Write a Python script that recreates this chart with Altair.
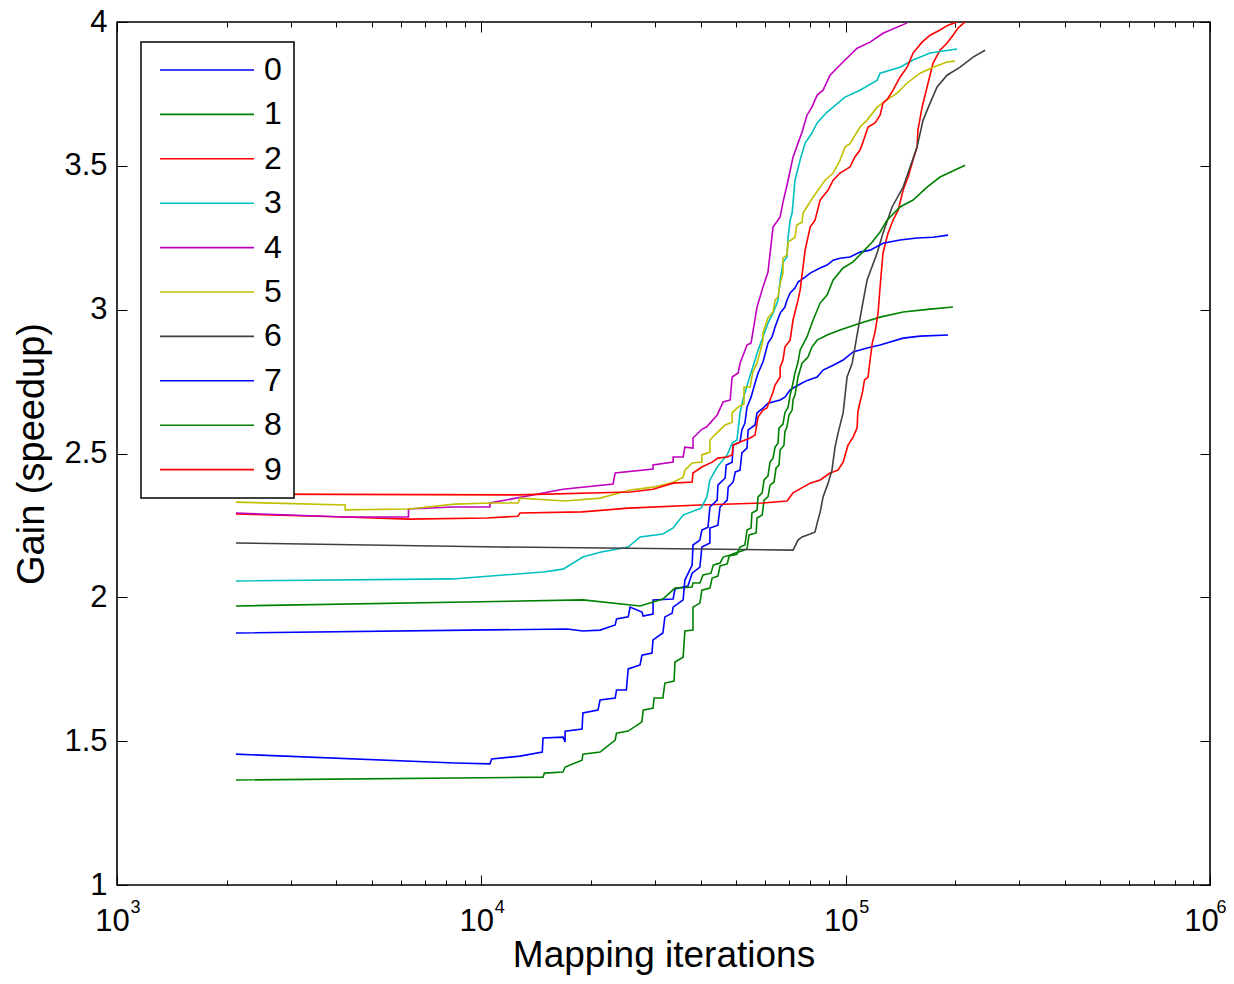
import altair as alt
import pandas as pd

FONT = "Liberation Sans"

series_names = ["0", "1", "2", "3", "4", "5", "6", "7", "8", "9"]
series_colors = ["#0000ff", "#008000", "#ff0000", "#00bfbf", "#bf00bf",
                 "#bfbf00", "#404040", "#0000ff", "#008000", "#ff0000"]

x_major = [1e3, 1e4, 1e5, 1e6]
x_major_inner = [1e3, 1e4, 1e5]
x_major_last = [1e6]
x_minor = [2e3, 3e3, 4e3, 5e3, 6e3, 7e3, 8e3, 9e3,
           2e4, 3e4, 4e4, 5e4, 6e4, 7e4, 8e4, 9e4,
           2e5, 3e5, 4e5, 5e5, 6e5, 7e5, 8e5, 9e5]
y_ticks = [1, 1.5, 2, 2.5, 3, 3.5, 4]

# iterations in thousands, gain values
x0 = [2.12, 17.2, 19.0, 21.18, 23.3, 23.5, 25.3, 25.6, 27.6, 27.8, 29.6, 29.6, 33.6, 34.0, 36.9,
      37.9, 39.8, 40.3, 42.4, 42.4, 44.6, 45.2, 47.3, 47.6, 49.1, 49.8, 51.3, 51.9, 53.6, 54.0,
      56.4, 57.1, 59.3, 61.2, 66.1, 68.1, 70.4, 72.6, 75.9, 78.8, 83.5, 86.7, 92.4, 98.4, 104.8,
      114.5, 124.3, 143.8, 160.1, 191.0]
y0 = [1.876, 1.890, 1.883, 1.886, 1.904, 1.925, 1.932, 1.966, 1.949, 1.935, 1.942, 1.991, 1.994, 2.029, 2.039,
      2.084, 2.105, 2.175, 2.189, 2.241, 2.251, 2.314, 2.338, 2.383, 2.401, 2.436, 2.442, 2.502, 2.519, 2.582,
      2.599, 2.641, 2.658, 2.675, 2.686, 2.696, 2.721, 2.731, 2.745, 2.755, 2.766, 2.790, 2.807, 2.825, 2.853,
      2.867, 2.877, 2.901, 2.908, 2.912]

x1 = [2.12, 19.0, 27.27, 31.5, 34.0, 37.9, 38.1, 39.8, 40.6, 42.7, 43.3, 45.2, 46.1, 48.2, 49.8,
      51.9, 53.6, 54.3, 56.8, 57.1, 59.0, 59.7, 61.2, 62.0, 63.6, 64.4, 65.6, 66.1, 67.7, 68.1,
      69.0, 69.9, 71.3, 71.7, 72.6, 74.0, 75.9, 78.8, 80.8, 83.5, 88.9, 96.5, 109.5, 124.3, 143.8,
      170.5, 197.1]
y1 = [1.970, 1.991, 1.970, 1.994, 2.032, 2.036, 2.050, 2.050, 2.078, 2.084, 2.112, 2.119, 2.140, 2.147, 2.154,
      2.161, 2.168, 2.217, 2.224, 2.276, 2.286, 2.338, 2.349, 2.390, 2.401, 2.449, 2.460, 2.512, 2.529, 2.575,
      2.592, 2.634, 2.651, 2.686, 2.703, 2.766, 2.814, 2.835, 2.870, 2.894, 2.912, 2.929, 2.953, 2.974, 2.992,
      3.002, 3.009]

x2 = [2.12, 4.23, 6.31, 10.37, 12.6, 12.77, 18.9, 25.3, 39.8, 59.3, 69.0, 71.7, 79.9, 85.1, 90.6,
      95.3, 98.4, 101.5, 104.8, 107.5, 108.0, 109.5, 111.3, 112.6, 115.2, 116.7, 118.3, 120.4, 122.7, 124.3,
      126.6, 130.7, 134.9, 139.3, 143.8, 148.4, 153.1, 157.0, 157.9, 162.1, 167.3, 173.7, 181.6, 189.8, 197.1,
      203.4, 212.7]
y2 = [2.290, 2.279, 2.272, 2.276, 2.282, 2.293, 2.297, 2.310, 2.321, 2.328, 2.335, 2.363, 2.397, 2.408, 2.432,
      2.442, 2.470, 2.529, 2.557, 2.589, 2.644, 2.679, 2.714, 2.755, 2.766, 2.825, 2.884, 2.922, 2.988, 3.079,
      3.197, 3.266, 3.311, 3.346, 3.416, 3.461, 3.520, 3.565, 3.624, 3.704, 3.774, 3.857, 3.902, 3.927, 3.954,
      3.979, 4.0]

x3 = [2.12, 8.36, 14.77, 16.76, 19.0, 21.18, 25.3, 27.27, 31.5, 33.6, 35.8, 40.1, 41.6, 42.4, 44.4,
      47.3, 48.8, 50.3, 51.3, 52.2, 54.7, 55.6, 57.5, 59.3, 61.2, 63.2, 65.2, 66.1, 67.3, 69.0,
      69.5, 70.4, 71.3, 72.6, 75.0, 77.4, 80.8, 83.5, 88.9, 92.4, 99.6, 109.5, 122.0, 124.3, 141.0,
      153.1, 170.5, 202.2]
y3 = [2.057, 2.064, 2.088, 2.098, 2.140, 2.157, 2.175, 2.210, 2.220, 2.241, 2.286, 2.310, 2.349, 2.408, 2.453,
      2.495, 2.536, 2.547, 2.641, 2.686, 2.773, 2.800, 2.860, 2.905, 2.953, 2.988, 3.033, 3.103, 3.165, 3.183,
      3.252, 3.311, 3.336, 3.450, 3.520, 3.579, 3.614, 3.649, 3.687, 3.704, 3.739, 3.763, 3.798, 3.822, 3.843,
      3.868, 3.892, 3.906]

x4 = [2.12, 4.23, 6.31, 6.31, 8.36, 10.56, 10.56, 16.76, 22.99, 23.3, 29.6, 29.6, 33.6, 33.6, 35.8,
      36.2, 38.1, 38.1, 40.35, 41.5, 44.4, 46.1, 48.2, 48.8, 50.7, 51.3, 53.6, 55.0, 57.1, 59.3,
      61.2, 63.2, 66.1, 67.3, 69.5, 71.7, 74.0, 75.9, 78.3, 80.8, 83.5, 86.7, 90.6, 94.7, 99.6,
      107.5, 116.7, 126.6, 147.5]
y4 = [2.293, 2.279, 2.279, 2.307, 2.314, 2.314, 2.328, 2.376, 2.394, 2.432, 2.446, 2.460, 2.470, 2.488, 2.488,
      2.522, 2.519, 2.554, 2.585, 2.592, 2.634, 2.679, 2.686, 2.766, 2.780, 2.814, 2.877, 2.884, 3.009, 3.079,
      3.131, 3.287, 3.322, 3.374, 3.450, 3.530, 3.579, 3.617, 3.676, 3.704, 3.746, 3.763, 3.815, 3.840, 3.868,
      3.909, 3.930, 3.961, 3.997]

x5 = [2.12, 4.23, 4.23, 6.31, 8.47, 10.56, 12.61, 12.77, 16.98, 21.18, 25.6, 29.6, 33.6, 35.8, 36.2,
      37.9, 40.3, 40.3, 42.4, 42.4, 44.6, 46.7, 48.8, 48.8, 50.7, 52.6, 52.6, 54.7, 55.6, 57.1,
      59.3, 59.3, 61.2, 63.2, 64.0, 65.2, 66.1, 67.3, 67.3, 69.0, 69.5, 72.6, 73.4, 75.9, 76.4,
      78.8, 81.4, 85.1, 87.8, 92.4, 96.5, 99.6, 102.8, 109.5, 114.5, 122.0, 129.9, 138.4, 147.5, 160.1,
      173.7, 189.8, 199.5]
y5 = [2.331, 2.321, 2.304, 2.307, 2.324, 2.328, 2.328, 2.345, 2.335, 2.345, 2.373, 2.383, 2.400, 2.418, 2.442,
      2.467, 2.470, 2.495, 2.505, 2.547, 2.575, 2.599, 2.609, 2.641, 2.662, 2.672, 2.731, 2.731, 2.783, 2.814,
      2.894, 2.921, 2.971, 2.992, 3.033, 3.044, 3.092, 3.127, 3.179, 3.190, 3.235, 3.252, 3.294, 3.304, 3.336,
      3.363, 3.391, 3.426, 3.450, 3.475, 3.520, 3.565, 3.577, 3.635, 3.659, 3.704, 3.729, 3.753, 3.788, 3.822,
      3.843, 3.861, 3.864]

x6 = [2.12, 11.25, 39.8, 71.7, 74.0, 75.9, 79.9, 82.4, 83.5, 85.1, 86.7, 89.5, 91.7, 93.5, 95.3,
      98.4, 100.9, 104.2, 107.5, 110.9, 114.5, 122.0, 126.6, 134.1, 143.8, 150.3, 157.0, 163.1, 170.5, 178.2,
      189.8, 206.1, 223.7, 241.4]
y6 = [2.189, 2.175, 2.168, 2.164, 2.199, 2.210, 2.220, 2.227, 2.258, 2.296, 2.349, 2.397, 2.442, 2.522, 2.571,
      2.641, 2.766, 2.814, 2.912, 3.009, 3.103, 3.197, 3.266, 3.357, 3.426, 3.496, 3.565, 3.659, 3.718, 3.774,
      3.815, 3.843, 3.878, 3.902]

x7 = [2.12, 8.47, 10.56, 10.67, 12.77, 14.7, 14.77, 16.76, 16.98, 16.98, 18.9, 19.0, 20.9, 21.18, 23.3,
      23.5, 25.0, 25.3, 27.27, 27.6, 29.4, 29.6, 31.5, 31.9, 33.4, 33.6, 35.8, 36.2, 37.9, 38.1,
      39.8, 40.3, 41.9, 42.4, 44.4, 44.6, 46.7, 47.0, 48.8, 49.1, 51.3, 51.9, 52.9, 53.6, 55.0,
      56.4, 57.5, 59.3, 61.2, 62.8, 64.0, 66.1, 68.1, 69.0, 70.4, 72.6, 74.0, 77.4, 79.9, 85.1,
      88.9, 92.4, 96.5, 102.8, 109.5, 116.7, 126.6, 141.0, 157.0, 173.7, 191.0]
y7 = [1.455, 1.424, 1.421, 1.438, 1.448, 1.462, 1.511, 1.514, 1.497, 1.535, 1.542, 1.598, 1.608, 1.643, 1.650,
      1.678, 1.678, 1.751, 1.765, 1.799, 1.806, 1.852, 1.876, 1.932, 1.945, 1.966, 1.991, 2.060, 2.112, 2.182,
      2.199, 2.234, 2.244, 2.314, 2.338, 2.390, 2.415, 2.460, 2.470, 2.529, 2.540, 2.582, 2.606, 2.661, 2.696,
      2.745, 2.780, 2.818, 2.884, 2.905, 2.940, 2.988, 3.009, 3.033, 3.058, 3.075, 3.096, 3.113, 3.127, 3.145,
      3.155, 3.172, 3.179, 3.183, 3.200, 3.207, 3.231, 3.242, 3.249, 3.252, 3.259]

x8 = [2.12, 14.77, 14.9, 16.76, 16.98, 18.9, 19.0, 21.18, 23.3, 23.5, 25.3, 27.6, 27.8, 29.6, 29.8,
      31.5, 31.9, 33.8, 34.0, 35.8, 36.2, 38.1, 38.1, 39.8, 40.3, 42.4, 43.0, 44.6, 45.2, 47.3,
      47.9, 50.3, 51.3, 52.9, 53.6, 55.0, 55.3, 57.1, 57.5, 59.0, 59.7, 61.2, 62.0, 63.2, 64.0,
      65.2, 65.6, 67.3, 68.1, 69.5, 70.4, 71.3, 72.6, 74.0, 75.0, 78.3, 81.4, 85.1, 88.9, 92.4,
      98.4, 104.8, 111.3, 118.3, 124.3, 129.9, 141.0, 153.1, 167.3, 181.6, 193.5, 212.7]
y8 = [1.365, 1.375, 1.389, 1.393, 1.410, 1.434, 1.455, 1.462, 1.504, 1.528, 1.535, 1.567, 1.608, 1.615, 1.650,
      1.650, 1.702, 1.709, 1.775, 1.792, 1.883, 1.886, 1.966, 1.980, 2.025, 2.032, 2.067, 2.074, 2.109, 2.116,
      2.144, 2.150, 2.175, 2.182, 2.234, 2.241, 2.293, 2.303, 2.349, 2.363, 2.408, 2.422, 2.470, 2.484, 2.522,
      2.536, 2.588, 2.602, 2.641, 2.661, 2.703, 2.731, 2.780, 2.818, 2.860, 2.905, 2.964, 3.023, 3.051, 3.103,
      3.145, 3.166, 3.200, 3.235, 3.270, 3.311, 3.357, 3.381, 3.426, 3.461, 3.478, 3.502]

x9 = [2.12, 12.6, 25.6, 29.6, 33.6, 37.9, 38.1, 40.3, 43.0, 44.6, 47.3, 48.8, 49.1, 51.3, 54.7,
      56.4, 57.1, 57.5, 59.3, 60.8, 62.0, 63.2, 64.0, 66.1, 66.1, 67.3, 68.1, 70.4, 71.7, 74.0,
      75.0, 77.4, 79.9, 82.4, 85.1, 89.5, 92.4, 96.5, 102.8, 105.9, 109.5, 111.3, 115.2, 120.4, 124.3,
      126.6, 130.7, 134.9, 141.0, 147.5, 153.1, 162.1, 170.5, 181.6, 191.0, 202.2]
y9 = [2.359, 2.356, 2.366, 2.376, 2.397, 2.401, 2.432, 2.453, 2.470, 2.484, 2.488, 2.495, 2.529, 2.540, 2.554,
      2.564, 2.606, 2.627, 2.651, 2.658, 2.686, 2.714, 2.738, 2.766, 2.800, 2.825, 2.870, 2.894, 2.964, 3.033,
      3.068, 3.207, 3.287, 3.311, 3.381, 3.416, 3.450, 3.475, 3.496, 3.530, 3.555, 3.579, 3.635, 3.649, 3.676,
      3.718, 3.735, 3.763, 3.808, 3.843, 3.892, 3.930, 3.954, 3.972, 3.989, 4.0]

xs = [x0, x1, x2, x3, x4, x5, x6, x7, x8, x9]
ys = [y0, y1, y2, y3, y4, y5, y6, y7, y8, y9]

rows = []
for name, xk, yv in zip(series_names, xs, ys):
    for i, (a, b) in enumerate(zip(xk, yv)):
        rows.append({"series": name, "x": a * 1000.0, "y": b, "i": i})
df = pd.DataFrame(rows)

xscale = alt.Scale(type="log", domain=[1000, 1000000], nice=False)
yscale = alt.Scale(domain=[1, 4], nice=False, zero=False)

exp_expr = ("datum.value < 5000 ? '3' : datum.value < 50000 ? '4' : "
            "datum.value < 500000 ? '5' : '6'")

lines = alt.Chart(df).mark_line(strokeWidth=1.6, clip=True).encode(
    x=alt.X("x:Q", scale=xscale,
            axis=alt.Axis(orient="bottom", values=x_major_inner, labelExpr="'10'",
                          ticks=False, tickSize=0, domain=False, grid=False,
                          title="Mapping iterations", labelFontSize=31, titleFontSize=37,
                          labelPadding=21, labelOffset=-5, titlePadding=1,
                          labelFont=FONT, titleFont=FONT,
                          titleFontWeight="normal", labelColor="black", titleColor="black",
                          labelFlush=False, labelOverlap=False)),
    y=alt.Y("y:Q", scale=yscale,
            axis=alt.Axis(orient="left", values=y_ticks, format="~g",
                          ticks=False, tickSize=0, domain=False, grid=False,
                          title="Gain (speedup)", labelFontSize=31, titleFontSize=38,
                          labelPadding=10, titlePadding=12, labelFont=FONT, titleFont=FONT,
                          titleFontWeight="normal", labelColor="black", titleColor="black",
                          labelOverlap=False)),
    color=alt.Color("series:N",
                    scale=alt.Scale(domain=series_names, range=series_colors),
                    legend=alt.Legend(orient="none", legendX=24, legendY=20, title=None,
                                      symbolType="stroke", symbolSize=8836,
                                      symbolStrokeWidth=1.6, labelFontSize=32,
                                      labelFont=FONT, labelColor="black",
                                      padding=12, rowPadding=12.4, clipHeight=32,
                                      symbolOffset=6, labelOffset=9,
                                      strokeColor="black", fillColor="white")),
    order=alt.Order("i:Q"),
)

helper = pd.DataFrame({"x": [1000.0], "y": [1.0]})


def tick_axis(orient, values, size):
    return alt.Axis(orient=orient, values=values, ticks=True, tickSize=size, offset=-size,
                    labels=False, domain=False, grid=False, title=None,
                    tickColor="black", tickWidth=1)


def label_axis(values, expr, size, pad, shift):
    return alt.Axis(orient="bottom", values=values, labelExpr=expr,
                    ticks=False, tickSize=0, domain=False, grid=False, title=None,
                    labelFontSize=size, labelPadding=pad, labelOffset=shift, labelFont=FONT,
                    labelColor="black", labelFlush=False, labelOverlap=False)


def tick_layer(xaxis, yaxis):
    return alt.Chart(helper).mark_point(opacity=0).encode(
        x=alt.X("x:Q", scale=xscale, axis=xaxis),
        y=alt.Y("y:Q", scale=yscale, axis=yaxis),
    )


t1 = tick_layer(tick_axis("bottom", x_major, 10), tick_axis("left", y_ticks, 10))
t2 = tick_layer(tick_axis("bottom", x_minor, 5), None)
t3 = tick_layer(tick_axis("top", x_major, 10), tick_axis("right", y_ticks, 10))
t4 = tick_layer(tick_axis("top", x_minor, 5), None)
t5 = tick_layer(label_axis(x_major_inner, exp_expr, 18, 13, 18), None)
t6 = tick_layer(label_axis(x_major_last, "'10'", 31, 21, -9), None)
t7 = tick_layer(label_axis(x_major_last, exp_expr, 18, 13, 11), None)

chart = alt.layer(lines, t1, t2, t3, t4, t5, t6, t7).resolve_axis(
    x="independent", y="independent"
).properties(
    width=1093, height=863,
    autosize=alt.AutoSizeParams(type="none"),
    padding={"left": 109, "top": 14, "right": 16, "bottom": 91},
    background="white",
).configure(font=FONT).configure_view(
    stroke="black", strokeWidth=1.6
).configure_legend(strokeWidth=1.5)

chart.save("out.html", embed_options={"renderer": "svg", "actions": False})
